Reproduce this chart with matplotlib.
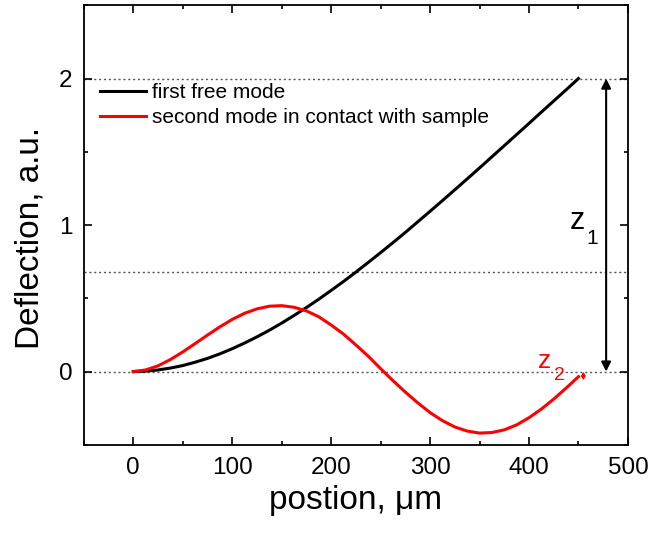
import matplotlib
matplotlib.use('Agg')
import matplotlib.pyplot as plt
from matplotlib.ticker import MultipleLocator

plt.rcParams['font.family'] = ['Liberation Sans', 'DejaVu Sans']

# values (every 12.5 um)
pos_free = [0, 12.5, 25, 37.5, 50, 62.5, 75, 87.5, 100, 112.5, 125, 137.5,
            150, 162.5, 175, 187.5, 200, 212.5, 225, 237.5, 250, 262.5, 275,
            287.5, 300, 312.5, 325, 337.5, 350, 362.5, 375, 387.5, 400, 412.5,
            425, 437.5, 450]
defl_free = [0.0, 0.003, 0.011, 0.024, 0.041, 0.064, 0.090, 0.121, 0.156,
             0.195, 0.237, 0.282, 0.331, 0.383, 0.437, 0.494, 0.554, 0.615,
             0.679, 0.745, 0.812, 0.880, 0.950, 1.022, 1.094, 1.167, 1.241,
             1.315, 1.390, 1.466, 1.542, 1.618, 1.694, 1.771, 1.847, 1.923, 2.0]

pos_contact = [0, 12.5, 25, 37.5, 50, 62.5, 75, 87.5, 100, 112.5, 125, 137.5,
               150, 162.5, 175, 187.5, 200, 212.5, 225, 237.5, 250, 262.5, 275,
               287.5, 300, 312.5, 325, 337.5, 350, 362.5, 375, 387.5, 400,
               412.5, 425, 437.5, 450]
defl_contact = [0.0, 0.011, 0.039, 0.082, 0.134, 0.191, 0.249, 0.305, 0.356,
                0.398, 0.428, 0.446, 0.450, 0.439, 0.414, 0.374, 0.318, 0.256,
                0.182, 0.105, 0.020, -0.062, -0.140, -0.213, -0.280, -0.335,
                -0.378, -0.406, -0.420, -0.416, -0.398, -0.364, -0.315, -0.256,
                -0.188, -0.113, -0.035]

ref_levels = [2.0, 0.68, 0.0]
labels = ['first free mode', 'second mode in contact with sample']

fig = plt.figure(figsize=(6.5, 5.34), dpi=100)
ax = fig.add_axes([0.129, 0.167, 0.837, 0.823])

for lv in ref_levels:
    ax.axhline(lv, color='#555555', lw=1.0, ls=(0, (1.5, 2.0)), zorder=1)

ax.plot(pos_free, defl_free, color='black', lw=2.2, label=labels[0], zorder=3)
ax.plot(pos_contact, defl_contact, color='red', lw=2.2, label=labels[1], zorder=3)

# z1 arrow
ax.annotate('', xy=(478, 2.0), xytext=(478, 0.0),
            arrowprops=dict(arrowstyle='<|-|>', color='black', lw=1.5,
                            mutation_scale=14, shrinkA=0, shrinkB=0))
ax.text(449, 0.975, 'z', fontsize=22, color='black', ha='center', va='baseline')
ax.text(464, 0.87, '1', fontsize=15, color='black', ha='center', va='baseline')

# z2 arrow
ax.annotate('', xy=(455, 0.0), xytext=(455, -0.06),
            arrowprops=dict(arrowstyle='<->', color='red', lw=1.2,
                            mutation_scale=5, shrinkA=0, shrinkB=0))
ax.text(416, 0.025, 'z', fontsize=19, color='red', ha='center', va='baseline')
ax.text(431, -0.055, '2', fontsize=14, color='red', ha='center', va='baseline')

ax.set_xlim(-50, 500)
ax.set_ylim(-0.5, 2.5)
ax.xaxis.set_major_locator(MultipleLocator(100))
ax.xaxis.set_minor_locator(MultipleLocator(50))
ax.yaxis.set_major_locator(MultipleLocator(1))
ax.yaxis.set_minor_locator(MultipleLocator(0.5))
ax.tick_params(which='both', direction='in', top=True, right=True, width=1.2)
ax.tick_params(which='major', length=6, labelsize=17.5)
ax.tick_params(axis='x', which='major', pad=9)
ax.tick_params(axis='y', which='major', pad=8)
ax.tick_params(which='minor', length=3)
for s in ax.spines.values():
    s.set_linewidth(1.3)

ax.set_xlabel('postion, μm', fontsize=24, labelpad=4)
ax.set_ylabel('Deflection, a.u.', fontsize=24)
ax.yaxis.set_label_coords(-0.07, 0.47)

ax.legend(loc='upper left', bbox_to_anchor=(-0.005, 0.866), frameon=False,
          fontsize=15, handlelength=2.2, handletextpad=0.3, labelspacing=0.3,
          borderaxespad=0.5)

fig.savefig('out.png', dpi=100)
